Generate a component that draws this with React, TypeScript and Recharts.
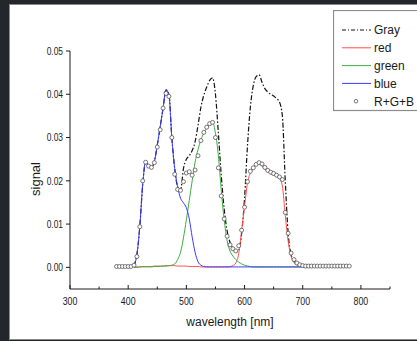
import { ComposedChart, Line, XAxis, YAxis, Legend } from 'recharts'

// wavelength grid [nm]
const wavelength = [
  380, 385, 390, 395, 400, 405, 410, 415, 420, 425, 430, 435, 440, 445, 450, 455,
  460, 465, 470, 475, 480, 485, 490, 495, 500, 505, 510, 515, 520, 525, 530, 535,
  540, 545, 550, 555, 560, 565, 570, 575, 580, 585, 590, 595, 600, 605, 610, 615,
  620, 625, 630, 635, 640, 645, 650, 655, 660, 665, 670, 675, 680, 685, 690, 695,
  700, 705, 710, 715, 720, 725, 730, 735, 740, 745, 750, 755, 760, 765, 770, 775, 780,
]

// measured R+G+B sum, 380..780
const rgbSum = [
  0.0002, 0.0002, 0.0002, 0.0002, 0.0002, 0.0002,
  0.0005, 0.0025, 0.0094, 0.0200, 0.0243, 0.0234, 0.0231, 0.0242, 0.0278, 0.0318,
  0.0368, 0.0402, 0.0395, 0.0300, 0.0215, 0.0180, 0.0178, 0.0198, 0.0218, 0.0221,
  0.0213, 0.0225, 0.0258, 0.0293, 0.0312, 0.0324, 0.0332, 0.0335, 0.0300, 0.0230,
  0.0165, 0.0112, 0.0072, 0.0052, 0.0043, 0.0038, 0.0050, 0.0086, 0.0139, 0.0198,
  0.0222, 0.0230, 0.0238, 0.0242, 0.0239, 0.0231, 0.0224, 0.0220, 0.0217, 0.0213,
  0.0209, 0.0203, 0.0127, 0.0079, 0.0033, 0.0018, 0.0010, 0.0006, 0.0004, 0.0003,
  0.0003, 0.0003, 0.0003, 0.0003, 0.0003, 0.0003, 0.0003, 0.0003, 0.0003, 0.0003,
  0.0003, 0.0003, 0.0003, 0.0003, 0.0003,
]

// line series cover 410..710 only
const lineStart = 410
const gray = [
  0.0004, 0.0030, 0.0095, 0.0192, 0.0244, 0.0235, 0.0231, 0.0245, 0.0282, 0.0325,
  0.0368, 0.0410, 0.0400, 0.0300, 0.0228, 0.0186, 0.0178, 0.0228, 0.0250, 0.0258,
  0.0270, 0.0290, 0.0328, 0.0370, 0.0398, 0.0417, 0.0432, 0.0438, 0.0400, 0.0310,
  0.0212, 0.0135, 0.0085, 0.0058, 0.0044, 0.0036, 0.0040, 0.0078, 0.0160, 0.0280,
  0.0370, 0.0420, 0.0441, 0.0445, 0.0428, 0.0413, 0.0405, 0.0400, 0.0396, 0.0390,
  0.0382, 0.0350, 0.0200, 0.0078, 0.0030, 0.0015, 0.0008, 0.0005, 0.0004, 0.0003,
  0.0003,
]
const red = [
  0.0001, 0.0001, 0.0001, 0.0002, 0.0002, 0.0002, 0.0002, 0.0003, 0.0003, 0.0003,
  0.0003, 0.0004, 0.0004, 0.0004, 0.0004, 0.0003, 0.0003, 0.0003, 0.0003, 0.0002,
  0.0002, 0.0002, 0.0002, 0.0001, 0.0001, 0.0001, 0.0001, 0.0001, 0.0001, 0.0001,
  0.0001, 0.0001, 0.0001, 0.0002, 0.0004, 0.0010, 0.0032, 0.0085, 0.0140, 0.0195,
  0.0218, 0.0230, 0.0238, 0.0242, 0.0234, 0.0226, 0.0220, 0.0216, 0.0213, 0.0210,
  0.0206, 0.0188, 0.0120, 0.0060, 0.0025, 0.0011, 0.0006, 0.0003, 0.0002, 0.0001,
  0.0001,
]
const green = [
  0.0000, 0.0000, 0.0001, 0.0001, 0.0001, 0.0001, 0.0001, 0.0002, 0.0002, 0.0002,
  0.0003, 0.0003, 0.0004, 0.0005, 0.0008, 0.0018, 0.0035, 0.0068, 0.0110, 0.0155,
  0.0200, 0.0243, 0.0272, 0.0295, 0.0310, 0.0322, 0.0332, 0.0335, 0.0310, 0.0258,
  0.0178, 0.0110, 0.0062, 0.0038, 0.0026, 0.0018, 0.0012, 0.0008, 0.0005, 0.0003,
  0.0002, 0.0001, 0.0001, 0.0001, 0.0001, 0.0001, 0.0001, 0.0001, 0.0001, 0.0001,
  0.0001, 0.0001, 0.0001, 0.0001, 0.0001, 0.0001, 0.0001, 0.0001, 0.0001, 0.0001,
  0.0001,
]
const blue = [
  0.0004, 0.0030, 0.0095, 0.0192, 0.0244, 0.0235, 0.0231, 0.0245, 0.0282, 0.0325,
  0.0368, 0.0410, 0.0400, 0.0300, 0.0228, 0.0186, 0.0160, 0.0149, 0.0138, 0.0112,
  0.0070, 0.0035, 0.0013, 0.0005, 0.0002, 0.0001, 0.0001, 0.0001, 0.0001, 0.0001,
  0.0001, 0.0001, 0.0001, 0.0001, 0.0001, 0.0001, 0.0001, 0.0001, 0.0001, 0.0001,
  0.0001, 0.0001, 0.0001, 0.0001, 0.0001, 0.0001, 0.0001, 0.0001, 0.0001, 0.0001,
  0.0001, 0.0001, 0.0001, 0.0001, 0.0001, 0.0001, 0.0001, 0.0001, 0.0001, 0.0001,
  0.0001,
]

const xTicks = [300, 350, 400, 450, 500, 550, 600, 650, 700, 750, 800, 850]
const yTicks = [0, 0.005, 0.01, 0.015, 0.02, 0.025, 0.03, 0.035, 0.04, 0.045, 0.05]

const COLORS = { gray: '#111', red: '#ff4f4f', green: '#3fae3f', blue: '#3a3aff' }
const FONT = 'Arial, "Liberation Sans", sans-serif'
const INK = '#1a1a1a'

const pick = (arr: number[], w: number) => {
  const i = (w - lineStart) / 5
  return i >= 0 && i < arr.length ? arr[i] : null
}

const data = wavelength.map((w, i) => ({
  w,
  rgb: rgbSum[i],
  gray: pick(gray, w),
  red: pick(red, w),
  green: pick(green, w),
  blue: pick(blue, w),
}))

function XTick({ x, y, payload }: any) {
  const major = payload.value % 100 === 0
  return (
    <g>
      <line x1={x} x2={x} y1={y} y2={y - (major ? 4 : 2.5)} stroke={INK} />
      {major && (
        <text transform={`translate(${x},${y + 16}) scale(0.8,1)`} textAnchor="middle"
          fontSize={11} fontFamily={FONT} fill={INK}>{payload.value}</text>
      )}
    </g>
  )
}

function YTick({ x, y, payload }: any) {
  const major = Math.round(payload.value * 1000) % 10 === 0
  return (
    <g>
      <line x1={x} x2={x - (major ? 4 : 2.5)} y1={y} y2={y} stroke={INK} />
      {major && (
        <text transform={`translate(${x - 7},${y}) scale(0.8,1)`} textAnchor="end" dy="0.36em"
          fontSize={10.5} fontFamily={FONT} fill={INK}>{payload.value.toFixed(2)}</text>
      )}
    </g>
  )
}

const legendItems = [
  { name: 'Gray', color: COLORS.gray, dash: '4 2 1 2' },
  { name: 'red', color: COLORS.red },
  { name: 'green', color: COLORS.green },
  { name: 'blue', color: COLORS.blue },
  { name: 'R+G+B', dot: true },
]

function LegendBox() {
  return (
    <svg width={90} height={102}>
      <rect x={0.5} y={0.5} width={100} height={100} fill="#fff" stroke="#8c8c8c" strokeWidth={1.2} />
      {legendItems.map((it, i) => {
        const cy = 20 + i * 17.8
        return (
          <g key={it.name}>
            {it.dot ? (
              <circle cx={23} cy={cy} r={1.8} fill="#fff" stroke="#555" strokeWidth={0.8} />
            ) : (
              <line x1={9} x2={38} y1={cy} y2={cy} stroke={it.color} strokeWidth={1}
                strokeDasharray={it.dash} />
            )}
            <text x={41} y={cy} dy="0.36em" fontSize={12} fontFamily={FONT} fill={INK}>{it.name}</text>
          </g>
        )
      })}
    </svg>
  )
}

export default function App() {
  return (
    <div style={{ position: 'absolute', left: 0, top: 0, width: 417, height: 341, overflow: 'hidden', background: '#23262a' }}>
      <div style={{ position: 'absolute', left: 9, top: 4, width: 420, height: 334, background: '#fff', border: '1px solid #8a8a8a' }} />
      <div style={{ position: 'absolute', left: 0, top: 0 }}>
        <ComposedChart width={417} height={341} data={data}
          margin={{ top: 51, right: 27, bottom: 22, left: 10 }}>
          <XAxis dataKey="w" type="number" domain={[300, 850]} ticks={xTicks}
            height={30} tickSize={0} tickMargin={0} tickLine={false}
            axisLine={{ stroke: INK, strokeWidth: 1 }} tick={<XTick />}
            label={{
              content: ({ viewBox }: any) => (
                <text x={viewBox.x + viewBox.width / 2} y={viewBox.y + 37} textAnchor="middle"
                  fontSize={12} fontFamily={FONT} fill={INK}>wavelength [nm]</text>
              ),
            }} />
          <YAxis type="number" domain={[-0.005, 0.05]} ticks={yTicks} allowDataOverflow
            width={60} tickSize={0} tickMargin={0} tickLine={false}
            axisLine={{ stroke: INK, strokeWidth: 1 }} tick={<YTick />}
            label={{
              content: ({ viewBox }: any) => {
                const cx = viewBox.x + 25
                const cy = viewBox.y + viewBox.height / 2 + 9
                return (
                  <text x={cx} y={cy} transform={`rotate(-90,${cx},${cy})`} textAnchor="middle"
                    dy="0.36em" fontSize={13} fontFamily={FONT} fill={INK}>signal</text>
                )
              },
            }} />
          <Legend layout="vertical" align="center" verticalAlign="middle"
            wrapperStyle={{ left: 333, top: 10, width: 90, height: 102 }} content={() => <LegendBox />} />
          <Line dataKey="gray" type="monotone" stroke={COLORS.gray} strokeWidth={1.2}
            strokeDasharray="5 2 1.5 2" dot={false} activeDot={false} isAnimationActive={false} />
          <Line dataKey="red" type="monotone" stroke={COLORS.red} strokeWidth={1}
            dot={false} activeDot={false} isAnimationActive={false} />
          <Line dataKey="green" type="monotone" stroke={COLORS.green} strokeWidth={1}
            dot={false} activeDot={false} isAnimationActive={false} />
          <Line dataKey="blue" type="monotone" stroke={COLORS.blue} strokeWidth={1}
            dot={false} activeDot={false} isAnimationActive={false} />
          <Line dataKey="rgb" stroke="none" activeDot={false} isAnimationActive={false}
            dot={{ r: 2, fill: '#fff', stroke: '#555', strokeWidth: 0.8 }} />
        </ComposedChart>
      </div>
    </div>
  )
}
